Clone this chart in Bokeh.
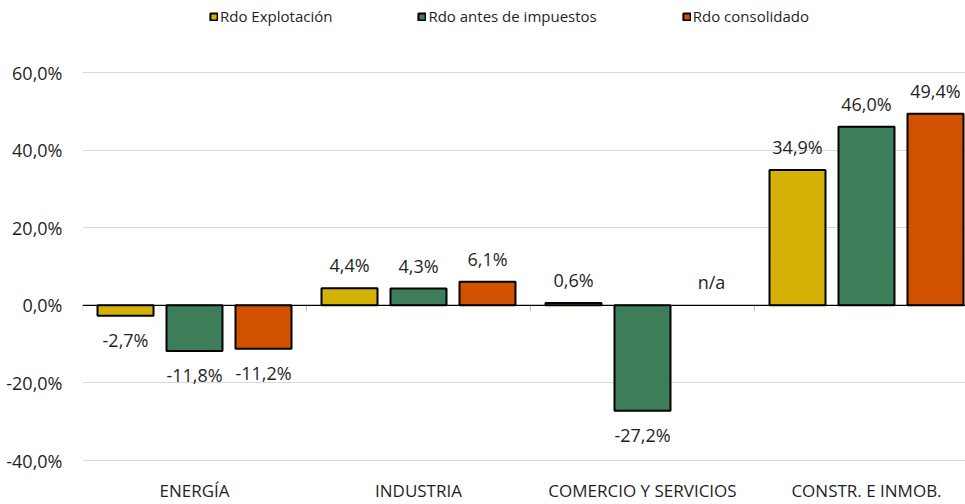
from bokeh.plotting import figure
from bokeh.models import Range1d, FixedTicker, ColumnDataSource, Span
from bokeh.embed import file_html
from bokeh.resources import INLINE
from bokeh.core.properties import value

# ---- data ----
categories = ["ENERGÍA", "INDUSTRIA", "COMERCIO Y SERVICIOS", "CONSTR. E INMOB."]
series_names = ["Rdo Explotación", "Rdo antes de impuestos", "Rdo consolidado"]
rdo_explotacion = [-2.7, 4.4, 0.6, 34.9]
rdo_antes_impuestos = [-11.8, 4.3, -27.2, 46.0]
rdo_consolidado = [-11.2, 6.1, None, 49.4]
y_ticks = [-40, -20, 0, 20, 40, 60]

series_values = [rdo_explotacion, rdo_antes_impuestos, rdo_consolidado]
colors = ["#D4B106", "#3E7D5A", "#D05200"]
offsets = [-0.308, 0.0, 0.308]
bar_w = 0.25
FONT = "Open Sans"
TXT = "#1f1f1f"

def fmt(v):
    return f"{v:.1f}%".replace(".", ",")

p = figure(width=965, height=504, output_backend="svg", toolbar_location=None,
           x_range=Range1d(0, 3.942), y_range=Range1d(-51.34, 78.56),
           min_border_left=82, min_border_right=0, min_border_top=0, min_border_bottom=0)
p.outline_line_color = None
p.background_fill_color = "white"
p.border_fill_color = "white"

# y axis
p.yaxis.ticker = FixedTicker(ticks=y_ticks)
p.yaxis.major_label_overrides = {t: fmt(t) for t in y_ticks}
p.yaxis.axis_line_color = None
p.yaxis.major_tick_line_color = None
p.yaxis.minor_tick_line_color = None
p.yaxis.major_label_standoff = 14
p.yaxis.major_label_text_font = FONT
p.yaxis.major_label_text_font_size = "18px"
p.yaxis.major_label_text_color = TXT
p.ygrid.ticker = FixedTicker(ticks=y_ticks)
p.ygrid.grid_line_color = "#d9d9d9"
p.xgrid.grid_line_color = None
p.xaxis.visible = False

idx = list(range(len(categories)))

# bars
for name, vals, col, off in zip(series_names, series_values, colors, offsets):
    xs = [i + 0.5 + off for i in idx]
    tops = [float("nan") if v is None else v for v in vals]
    src = ColumnDataSource(dict(x=xs, top=tops))
    p.vbar(x="x", top="top", bottom=0, width=bar_w, source=src,
           fill_color=col, line_color="black", line_width=2, legend_label=name)

# zero line and small ticks
p.add_layout(Span(location=0, dimension="width", line_color="black", line_width=1.2))
bounds = list(range(len(categories)))
p.segment(x0=bounds, y0=[0] * len(bounds), x1=bounds, y1=[-1.5] * len(bounds),
          line_color="#bfbfbf", line_width=1)

# data labels
pos_x, pos_y, pos_t, neg_x, neg_y, neg_t = [], [], [], [], [], []
for vals, off in zip(series_values, offsets):
    for i, v in zip(idx, vals):
        x = i + 0.5 + off
        if v is None:
            pos_x.append(x); pos_y.append(0); pos_t.append("n/a")
        elif v >= 0:
            pos_x.append(x); pos_y.append(v); pos_t.append(fmt(v))
        else:
            neg_x.append(x); neg_y.append(v); neg_t.append(fmt(v))

p.text(x=pos_x, y=pos_y, text=pos_t, text_align="center", text_baseline="alphabetic",
       y_offset=-23, text_font=value(FONT), text_font_size="18px", text_color=TXT)
p.text(x=neg_x, y=neg_y, text=neg_t, text_align="center", text_baseline="alphabetic",
       y_offset=24, text_font=value(FONT), text_font_size="18px", text_color=TXT)

# category labels
p.text(x=[i + 0.5 for i in idx], y=[-40] * len(idx), text=categories,
       text_align="center", text_baseline="alphabetic", y_offset=30,
       text_font=value(FONT), text_font_size="17px", text_color=TXT)

# legend
lg = p.legend[0]
lg.orientation = "horizontal"
lg.location = (127, 478)
lg.padding = 0
lg.margin = 0
lg.spacing = 85
lg.glyph_width = 9
lg.glyph_height = 9
lg.label_standoff = 2
lg.label_height = 18
lg.label_text_font = FONT
lg.label_text_font_size = "15px"
lg.label_text_color = TXT
lg.border_line_color = None
lg.background_fill_alpha = 0

open("out.html", "w").write(file_html(p, INLINE))
